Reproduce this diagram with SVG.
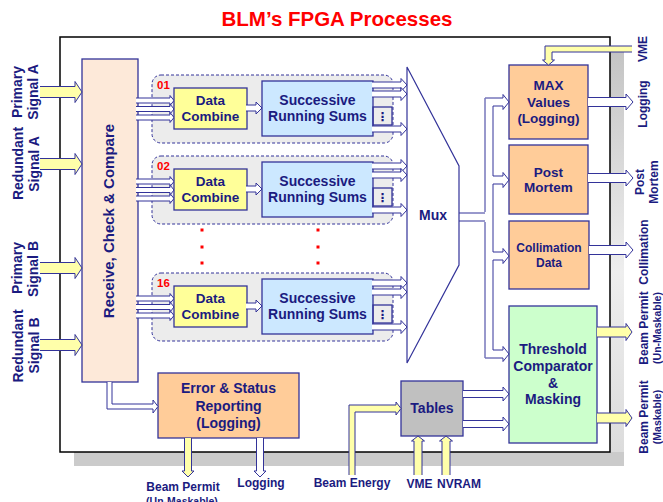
<svg xmlns="http://www.w3.org/2000/svg" width="663" height="502" viewBox="0 0 663 502">
<defs>
<linearGradient id="shadeR" x1="0" y1="0" x2="0" y2="1">
<stop offset="0" stop-color="#c4c4c4"/>
<stop offset="0.55" stop-color="#eeeeee"/>
<stop offset="1" stop-color="#dcdcdc"/>
</linearGradient>
<style>
text{font-family:"Liberation Sans",Arial,sans-serif;font-weight:bold;fill:#1b1b80}
.t14{font-size:14px;text-anchor:middle}
.t135{font-size:13.5px;text-anchor:middle}
.t12{font-size:12px;text-anchor:middle}
.t105{font-size:10.5px;text-anchor:middle}
.num{font-size:11.5px;fill:#ff0000}
.lane{fill:#ececec;stroke:#333399;stroke-width:1;stroke-dasharray:3,2}
.box{stroke:#333399;stroke-width:1.3}
.dc{fill:#ffff99}
.srs{fill:#cce8ff}
.org{fill:#ffcc99}
.ha{fill:#ffffff;stroke:#333399;stroke-width:1}
.ya{fill:#ffffaa;stroke:#333399;stroke-width:1}
.ln{fill:none;stroke:#333399;stroke-width:1}
.dot{fill:#ff0000}
</style>
</defs>

<g id="frame">
<rect x="610" y="51" width="14" height="401" fill="url(#shadeR)"/>
<rect x="74" y="452" width="550" height="14" fill="#cbcbcb"/>
<rect x="60" y="37" width="550" height="415" fill="#ffffff" stroke="#000000" stroke-width="1.5"/>
</g>

<text id="title" x="337" y="26" style="font-size:20.5px;fill:#ff0000;text-anchor:middle">BLM’s FPGA Processes</text>

<g id="receive">
<rect x="82" y="59" width="56" height="323" fill="#fde9d9" class="box"/>
<text class="t14" style="font-size:15px" transform="translate(114,221) rotate(-90)">Receive, Check &amp; Compare</text>
</g>

<g id="lane01">
<rect x="152" y="75" width="241" height="68" rx="9" class="lane"/>
<text x="157" y="89" class="num">01</text>
<path class="ha" d="M136,98 L170,98 L170,95.5 L174,100.5 L170,105.5 L170,103 L136,103"/>
<path class="ha" d="M136,106.5 L170,106.5 L170,104 L174,109 L170,114 L170,111.5 L136,111.5"/>
<path class="ha" d="M136,115 L170,115 L170,112.5 L174,117.5 L170,122.5 L170,120 L136,120"/>
<rect x="174" y="88" width="73" height="41" class="box dc"/>
<text x="210.5" y="105" class="t135">Data</text>
<text x="210.5" y="121" class="t135">Combine</text>
<path class="ha" d="M246,105 L256,105 L256,102 L262,108 L256,114 L256,111 L246,111"/>
<rect x="262" y="81" width="111" height="55" class="box srs"/>
<text x="317.5" y="105" class="t14">Successive</text>
<text x="317.5" y="121" class="t14">Running Sums</text>
<rect x="373" y="107" width="19" height="18" fill="none" class="box"/>
<text x="382.5" y="121" style="font-family:'DejaVu Sans',sans-serif;font-size:12px;text-anchor:middle">⋮</text>
<path class="ha" d="M372,82 L401,82 L401,78.5 L407,85 L401,91.5 L401,88 L372,88"/>
<path class="ha" d="M372,91 L401,91 L401,87.5 L407,94 L401,100.5 L401,97 L372,97"/>
<path class="ha" d="M372,126 L401,126 L401,122.5 L407,129 L401,135.5 L401,132 L372,132"/>
</g>

<g id="lane02" transform="translate(0,81)">
<rect x="152" y="75" width="241" height="68" rx="9" class="lane"/>
<text x="157" y="89" class="num">02</text>
<path class="ha" d="M136,98 L170,98 L170,95.5 L174,100.5 L170,105.5 L170,103 L136,103"/>
<path class="ha" d="M136,106.5 L170,106.5 L170,104 L174,109 L170,114 L170,111.5 L136,111.5"/>
<path class="ha" d="M136,115 L170,115 L170,112.5 L174,117.5 L170,122.5 L170,120 L136,120"/>
<rect x="174" y="88" width="73" height="41" class="box dc"/>
<text x="210.5" y="105" class="t135">Data</text>
<text x="210.5" y="121" class="t135">Combine</text>
<path class="ha" d="M246,105 L256,105 L256,102 L262,108 L256,114 L256,111 L246,111"/>
<rect x="262" y="81" width="111" height="55" class="box srs"/>
<text x="317.5" y="105" class="t14">Successive</text>
<text x="317.5" y="121" class="t14">Running Sums</text>
<rect x="373" y="107" width="19" height="18" fill="none" class="box"/>
<text x="382.5" y="121" style="font-family:'DejaVu Sans',sans-serif;font-size:12px;text-anchor:middle">⋮</text>
<path class="ha" d="M372,82 L401,82 L401,78.5 L407,85 L401,91.5 L401,88 L372,88"/>
<path class="ha" d="M372,91 L401,91 L401,87.5 L407,94 L401,100.5 L401,97 L372,97"/>
<path class="ha" d="M372,126 L401,126 L401,122.5 L407,129 L401,135.5 L401,132 L372,132"/>
</g>

<g id="lane16" transform="translate(0,198)">
<rect x="152" y="75" width="241" height="68" rx="9" class="lane"/>
<text x="157" y="89" class="num">16</text>
<path class="ha" d="M136,98 L170,98 L170,95.5 L174,100.5 L170,105.5 L170,103 L136,103"/>
<path class="ha" d="M136,106.5 L170,106.5 L170,104 L174,109 L170,114 L170,111.5 L136,111.5"/>
<path class="ha" d="M136,115 L170,115 L170,112.5 L174,117.5 L170,122.5 L170,120 L136,120"/>
<rect x="174" y="88" width="73" height="41" class="box dc"/>
<text x="210.5" y="105" class="t135">Data</text>
<text x="210.5" y="121" class="t135">Combine</text>
<path class="ha" d="M246,105 L256,105 L256,102 L262,108 L256,114 L256,111 L246,111"/>
<rect x="262" y="81" width="111" height="55" class="box srs"/>
<text x="317.5" y="105" class="t14">Successive</text>
<text x="317.5" y="121" class="t14">Running Sums</text>
<rect x="373" y="107" width="19" height="18" fill="none" class="box"/>
<text x="382.5" y="121" style="font-family:'DejaVu Sans',sans-serif;font-size:12px;text-anchor:middle">⋮</text>
<path class="ha" d="M372,82 L401,82 L401,78.5 L407,85 L401,91.5 L401,88 L372,88"/>
<path class="ha" d="M372,91 L401,91 L401,87.5 L407,94 L401,100.5 L401,97 L372,97"/>
<path class="ha" d="M372,126 L401,126 L401,122.5 L407,129 L401,135.5 L401,132 L372,132"/>
</g>

<g id="ellipsis">
<rect x="200.5" y="228.5" width="3" height="3" class="dot"/>
<rect x="200.5" y="245.5" width="3" height="3" class="dot"/>
<rect x="200.5" y="261.5" width="3" height="3" class="dot"/>
<rect x="316.5" y="228.5" width="3" height="3" class="dot"/>
<rect x="316.5" y="245.5" width="3" height="3" class="dot"/>
<rect x="316.5" y="261.5" width="3" height="3" class="dot"/>
</g>

<g id="mux">
<polygon points="407,67 459,166 459,265 407,363" fill="#ffffff" stroke="#333399" stroke-width="1.2"/>
<text x="433" y="220" class="t14">Mux</text>
</g>

<g id="maxvalues">
<rect x="509" y="65" width="79" height="74" class="box org"/>
<text x="548.5" y="90" class="t135">MAX</text>
<text x="548.5" y="107" class="t135">Values</text>
<text x="548.5" y="123" class="t135">(Logging)</text>
</g>
<g id="postmortem">
<rect x="509" y="145" width="79" height="69" class="box org"/>
<text x="548.5" y="177" class="t135">Post</text>
<text x="548.5" y="192" class="t135">Mortem</text>
</g>
<g id="collimation">
<rect x="509" y="221" width="80" height="68" class="box org"/>
<text x="549" y="251.5" class="t12">Collimation</text>
<text x="549" y="266.5" class="t12">Data</text>
</g>
<g id="threshold">
<rect x="509" y="306" width="88" height="137" fill="#ccffcc" class="box"/>
<text x="553" y="354" class="t14">Threshold</text>
<text x="553" y="371" class="t14">Comparator</text>
<text x="553" y="388" class="t14">&amp;</text>
<text x="553" y="404" class="t14">Masking</text>
</g>
<g id="tables">
<rect x="401" y="381" width="62" height="55" fill="#c0c0c0" class="box"/>
<text x="432" y="413" class="t14">Tables</text>
</g>
<g id="error">
<rect x="158" y="373" width="141" height="65" class="box org"/>
<text x="228.5" y="393" class="t14">Error &amp; Status</text>
<text x="228.5" y="411" class="t14">Reporting</text>
<text x="228.5" y="428" class="t14">(Logging)</text>
</g>

<g id="connectors">
<path class="ya" d="M40,86.5 L75,86.5 L75,81.5 L82,92 L75,102.5 L75,97.5 L40,97.5"/>
<path class="ya" d="M40,158.5 L75,158.5 L75,153.5 L82,164 L75,174.5 L75,169.5 L40,169.5"/>
<path class="ya" d="M40,262.5 L75,262.5 L75,257.5 L82,268 L75,278.5 L75,273.5 L40,273.5"/>
<path class="ya" d="M40,339.5 L75,339.5 L75,334.5 L82,345 L75,355.5 L75,350.5 L40,350.5"/>

<line class="ln" x1="485" y1="98" x2="485" y2="212"/>
<line class="ln" x1="485" y1="222" x2="485" y2="358"/>
<line class="ln" x1="493" y1="106" x2="493" y2="176"/>
<line class="ln" x1="493" y1="184" x2="493" y2="252"/>
<line class="ln" x1="493" y1="260" x2="493" y2="350"/>
<line class="ln" x1="459" y1="213" x2="485" y2="213"/>
<line class="ln" x1="459" y1="221" x2="485" y2="221"/>
<path class="ha" d="M485,98 L503,98 L503,94.5 L509,102 L503,109.5 L503,106 L493,106"/>
<path class="ha" d="M493,176 L503,176 L503,172.5 L509,180 L503,187.5 L503,184 L493,184"/>
<path class="ha" d="M493,252 L503,252 L503,248.5 L509,256 L503,263.5 L503,260 L493,260"/>
<path class="ha" d="M493,350 L503,350 L503,346.5 L509,354 L503,361.5 L503,358 L485,358"/>

<path class="ya" d="M632,46 L545,46 L545,60 L542.5,60 L548.5,65 L554.5,60 L552,60 L552,52 L632,52"/>
<path class="ha" d="M588,97.5 L626,97.5 L626,94 L633,102 L626,110 L626,106.5 L588,106.5"/>
<path class="ha" d="M588,173.5 L626,173.5 L626,170 L633,178 L626,186 L626,182.5 L588,182.5"/>
<path class="ha" d="M589,245.5 L626,245.5 L626,242 L633,250 L626,258 L626,254.5 L589,254.5"/>
<path class="ya" d="M597,327 L626,327 L626,323.5 L632,332 L626,340.5 L626,337 L597,337"/>
<path class="ya" d="M597,413 L626,413 L626,409.5 L632,418 L626,426.5 L626,423 L597,423"/>

<path class="ha" d="M463,390.5 L503,390.5 L503,387 L509,394 L503,401 L503,397.5 L463,397.5"/>
<path class="ha" d="M463,420.5 L503,420.5 L503,417 L509,424 L503,431 L503,427.5 L463,427.5"/>

<path class="ya" d="M349,475 L349,405 L396,405 L396,402 L401,408.5 L396,415 L396,412 L355,412 L355,475"/>
<path class="ya" d="M414,475 L414,441 L411.5,441 L418,436 L424.5,441 L422,441 L422,475"/>
<path class="ya" d="M442,475 L442,441 L439.5,441 L446,436 L452.5,441 L450,441 L450,475"/>

<path class="ha" d="M107,382 L107,409 L153,409 L153,413 L158,406.5 L153,400 L153,404 L112,404 L112,382"/>
<path class="ya" d="M184.5,438 L184.5,471 L182,471 L188,477 L194,471 L191.5,471 L191.5,438"/>
<path class="ha" d="M256.5,438 L256.5,471 L254,471 L260,477 L266,471 L263.5,471 L263.5,438"/>
</g>

<g id="labels">
<text class="t14" transform="translate(22,92) rotate(-90)">Primary</text>
<text class="t14" transform="translate(38,92) rotate(-90)">Signal A</text>
<text class="t14" transform="translate(22.5,163.5) rotate(-90)">Redundant</text>
<text class="t14" transform="translate(38.5,164) rotate(-90)">Signal A</text>
<text class="t14" transform="translate(22,268) rotate(-90)">Primary</text>
<text class="t14" transform="translate(38,269) rotate(-90)">Signal B</text>
<text class="t14" transform="translate(22.5,346) rotate(-90)">Redundant</text>
<text class="t14" transform="translate(38.5,345.5) rotate(-90)">Signal B</text>

<text class="t12" transform="translate(647,49) rotate(-90)">VME</text>
<text class="t12" transform="translate(647,104) rotate(-90)">Logging</text>
<text class="t12" transform="translate(644,182) rotate(-90)">Post</text>
<text class="t12" transform="translate(658,182) rotate(-90)">Mortem</text>
<text class="t12" transform="translate(648,252) rotate(-90)">Collimation</text>
<text class="t12" transform="translate(648,328) rotate(-90)">Beam Permit</text>
<text class="t105" transform="translate(661,328) rotate(-90)">(Un-Maskable)</text>
<text class="t12" transform="translate(648,417) rotate(-90)">Beam Permit</text>
<text class="t105" transform="translate(661,417) rotate(-90)">(Maskable)</text>

<text x="183" y="491" class="t12">Beam Permit</text>
<text x="182" y="505" class="t105">(Un-Maskable)</text>
<text x="261" y="486.5" class="t12">Logging</text>
<text x="352" y="487" class="t12">Beam Energy</text>
<text x="419.5" y="488" class="t12">VME</text>
<text x="459" y="488" class="t12">NVRAM</text>
</g>
</svg>
